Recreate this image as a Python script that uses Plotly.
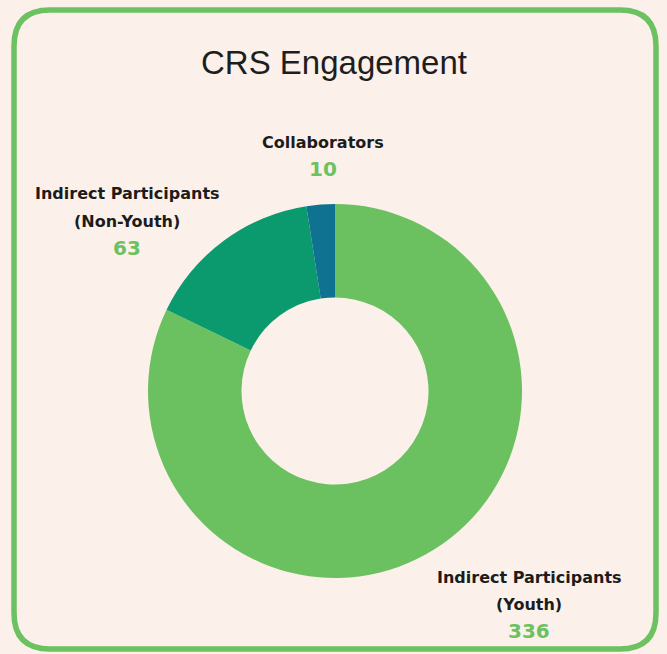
import plotly.graph_objects as go

# Data
categories = ["Indirect Participants (Youth)", "Indirect Participants (Non-Youth)", "Collaborators"]
label_lines = [["Indirect Participants", "(Youth)"], ["Indirect Participants", "(Non-Youth)"], ["Collaborators"]]
values = [336, 63, 10]
colors = ["#6bc160", "#0a9a6d", "#0e7290"]

W, H = 667, 654
BG = "#fcf1ea"
GREEN = "#6cc160"

# Donut geometry (pixels)
cx, cy, R = 335, 391, 187

fig = go.Figure(go.Pie(
    labels=categories,
    values=values,
    marker=dict(colors=colors, line=dict(width=0)),
    hole=0.5,
    sort=False,
    direction="clockwise",
    rotation=0,
    textinfo="none",
    hoverinfo="label+value",
    showlegend=False,
    domain=dict(x=[(cx - R) / W, (cx + R) / W], y=[(H - cy - R) / H, (H - cy + R) / H]),
))

# Label positions (pixel centers of first line)
label_pos = [(529, 577), (127, 194), (323, 142)]
line_h = 27

annotations = []
for lines, v, (lx, ly) in zip(label_lines, values, label_pos):
    for i, t in enumerate(lines):
        annotations.append(dict(
            x=lx / W, y=1 - (ly + i * line_h) / H, xref="paper", yref="paper",
            text=f"<b>{t}</b>", showarrow=False, xanchor="center", yanchor="middle",
            font=dict(family="DejaVu Sans", size=16, color="#1c1c1c"),
        ))
    annotations.append(dict(
        x=lx / W, y=1 - (ly + len(lines) * line_h) / H, xref="paper", yref="paper",
        text=f"<b>{v}</b>", showarrow=False, xanchor="center", yanchor="middle",
        font=dict(family="DejaVu Sans", size=20, color=GREEN),
    ))

annotations.append(dict(
    x=334 / W, y=1 - 62 / H, xref="paper", yref="paper",
    text="CRS Engagement", showarrow=False, xanchor="center", yanchor="middle",
    font=dict(family="Liberation Sans", size=33, color="#1e1e1e"),
))

# Rounded border
x0, y0, x1, y1, r = 14, 10, 656, 649, 36
def px(x):
    return x / W
def py(y):
    return 1 - y / H
path = (f"M {px(x0 + r)},{py(y0)} L {px(x1 - r)},{py(y0)} "
        f"Q {px(x1)},{py(y0)} {px(x1)},{py(y0 + r)} "
        f"L {px(x1)},{py(y1 - r)} Q {px(x1)},{py(y1)} {px(x1 - r)},{py(y1)} "
        f"L {px(x0 + r)},{py(y1)} Q {px(x0)},{py(y1)} {px(x0)},{py(y1 - r)} "
        f"L {px(x0)},{py(y0 + r)} Q {px(x0)},{py(y0)} {px(x0 + r)},{py(y0)} Z")

fig.update_layout(
    width=W, height=H,
    margin=dict(l=0, r=0, t=0, b=0),
    paper_bgcolor=BG, plot_bgcolor=BG,
    annotations=annotations,
    shapes=[dict(type="path", path=path, xref="paper", yref="paper",
                 line=dict(color=GREEN, width=5.5), layer="below")],
)

fig.write_html("out.html", config={"displayModeBar": False},
               post_script="document.body.style.margin='0';document.body.style.background='" + BG + "';")
